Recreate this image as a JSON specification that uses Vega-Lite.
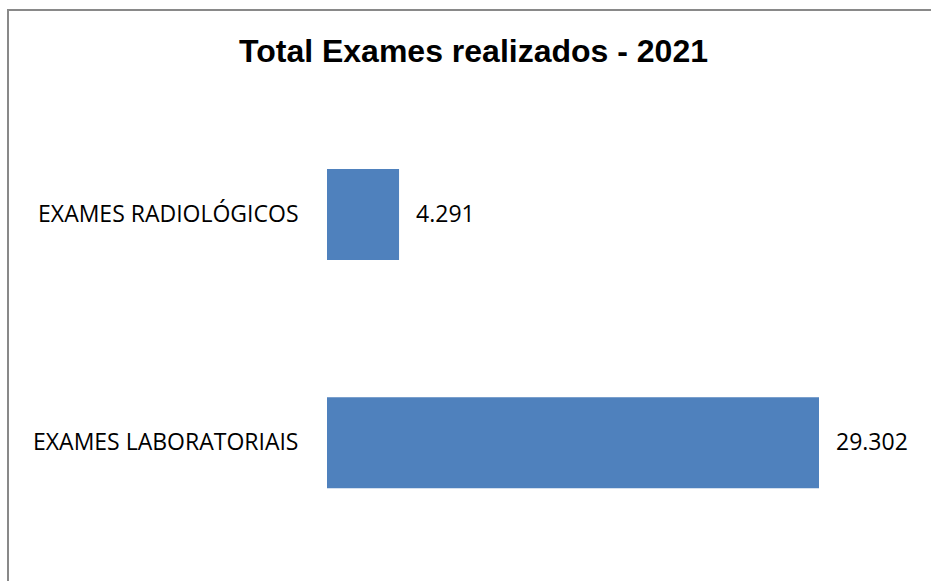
{
  "$schema": "https://vega.github.io/schema/vega-lite/v6.json",
  "autosize": {"type": "none"},
  "padding": {"left": 8, "top": 10, "right": 0, "bottom": 0},
  "width": 931,
  "height": 600,
  "background": "white",
  "title": {
    "text": "Total Exames realizados - 2021",
    "font": "Liberation Sans",
    "fontSize": 32,
    "fontWeight": "bold",
    "color": "#000000",
    "anchor": "middle",
    "baseline": "alphabetic",
    "offset": -84
  },
  "data": {
    "values": [
      {"categoria": "EXAMES RADIOLÓGICOS", "valor": 4291, "rotulo": "4.291"},
      {"categoria": "EXAMES LABORATORIAIS", "valor": 29302, "rotulo": "29.302"}
    ]
  },
  "encoding": {
    "y": {
      "field": "categoria",
      "type": "nominal",
      "sort": ["EXAMES RADIOLÓGICOS", "EXAMES LABORATORIAIS"],
      "scale": {"range": [159, 478.2], "paddingInner": 0.6009, "paddingOuter": 0},
      "axis": {
        "title": null,
        "domain": false,
        "ticks": false,
        "tickSize": 0,
        "grid": false,
        "offset": -290,
        "labelPadding": 0,
        "labelLimit": 0,
        "labelFont": "Open Sans",
        "labelFontSize": 23,
        "labelColor": "#000000",
        "labelAlign": "right",
        "labelBaseline": "middle"
      }
    },
    "x": {
      "field": "valor",
      "type": "quantitative",
      "scale": {"domain": [-18999, 36449], "nice": false, "zero": false},
      "axis": null
    }
  },
  "layer": [
    {"mark": {"type": "bar", "color": "#4F81BD"}},
    {
      "mark": {"type": "text", "align": "left", "baseline": "middle", "dx": 17, "font": "Open Sans", "fontSize": 23, "color": "#000000"},
      "encoding": {"text": {"field": "rotulo", "type": "nominal"}}
    }
  ],
  "config": {
    "view": {"stroke": "#898989", "strokeWidth": 2}
  }
}
